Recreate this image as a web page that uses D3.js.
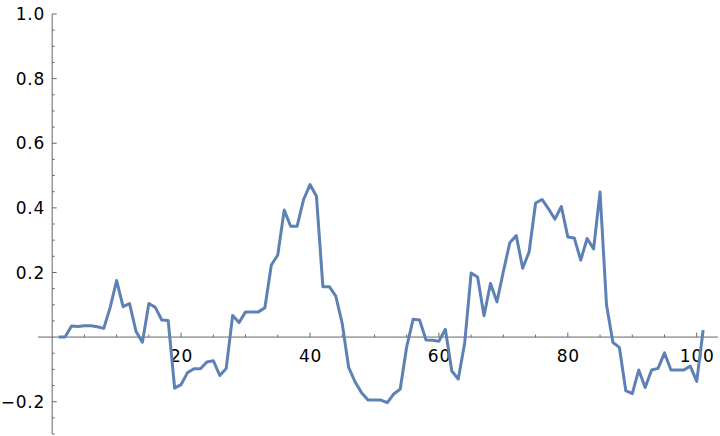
<!DOCTYPE html>
<html>
<head>
<meta charset="utf-8">
<script src="https://cdn.jsdelivr.net/npm/d3@7"></script>
<style>
  html, body { margin: 0; padding: 0; background: #fff; }
  svg text { font-family: "DejaVu Sans", sans-serif; font-size: 17px; letter-spacing: 0.8px; fill: #000; }
</style>
</head>
<body>
<svg id="chart" width="720" height="436"></svg>
<script>
const xValues = d3.range(1, 102);
const yValues = [
  0, 0, 0.034, 0.033, 0.035, 0.035, 0.032, 0.027, 0.092, 0.175,
  0.094, 0.104, 0.018, -0.016, 0.104, 0.092, 0.053, 0.051, -0.158, -0.147,
  -0.11, -0.098, -0.098, -0.077, -0.073, -0.119, -0.097, 0.067, 0.045, 0.078,
  0.078, 0.078, 0.091, 0.223, 0.254, 0.393, 0.343, 0.343, 0.425, 0.472,
  0.436, 0.156, 0.156, 0.127, 0.042, -0.094, -0.139, -0.172, -0.195, -0.195,
  -0.195, -0.203, -0.176, -0.161, -0.03, 0.055, 0.053, -0.009, -0.01, -0.013,
  0.024, -0.105, -0.13, -0.018, 0.198, 0.186, 0.066, 0.166, 0.109, 0.203,
  0.292, 0.314, 0.213, 0.264, 0.415, 0.426, 0.397, 0.365, 0.404, 0.31,
  0.307, 0.238, 0.305, 0.273, 0.449, 0.1, -0.017, -0.032, -0.166, -0.175,
  -0.102, -0.156, -0.102, -0.097, -0.049, -0.102, -0.102, -0.102, -0.09, -0.137,
  0.022
];
const xMajor = [20, 40, 60, 80, 100];
const xMinor = d3.range(5, 105, 5).filter(v => !xMajor.includes(v));
const yMajor = [-0.2, 0.2, 0.4, 0.6, 0.8, 1.0];
const yMinor = d3.range(-0.3, 1.0001, 0.05).map(v => +v.toFixed(2))
  .filter(v => !yMajor.some(m => Math.abs(m - v) < 1e-9) && Math.abs(v) > 1e-9);

const svg = d3.select('#chart');
const x = d3.scaleLinear().domain([-2.2, 103.3]).range([38, 718]);
const y = d3.scaleLinear().domain([-0.3, 1.0]).range([434, 14]);
const axisColor = '#666';
const fmt = v => (v < 0 ? '\u2212' : '') + Math.abs(v).toFixed(1);

// x axis
const gx = svg.append('g');
gx.append('line')
  .attr('x1', x.range()[0]).attr('x2', x.range()[1])
  .attr('y1', y(0)).attr('y2', y(0))
  .attr('stroke', axisColor).attr('stroke-width', 1);
gx.selectAll('.maj').data(xMajor).join('line')
  .attr('x1', d => x(d)).attr('x2', d => x(d))
  .attr('y1', y(0)).attr('y2', y(0) - 4.5)
  .attr('stroke', axisColor);
gx.selectAll('.min').data(xMinor).join('line')
  .attr('x1', d => x(d)).attr('x2', d => x(d))
  .attr('y1', y(0)).attr('y2', y(0) - 2.5)
  .attr('stroke', axisColor);
gx.selectAll('text').data(xMajor).join('text')
  .attr('x', d => x(d) + 0.5).attr('y', y(0) + 25)
  .attr('text-anchor', 'middle')
  .text(d => d);

// y axis
const gy = svg.append('g');
gy.append('line')
  .attr('x1', x(0)).attr('x2', x(0))
  .attr('y1', y.range()[0]).attr('y2', y.range()[1])
  .attr('stroke', axisColor).attr('stroke-width', 1);
gy.selectAll('.maj').data(yMajor).join('line')
  .attr('x1', x(0)).attr('x2', x(0) + 4.5)
  .attr('y1', d => y(d)).attr('y2', d => y(d))
  .attr('stroke', axisColor);
gy.selectAll('.min').data(yMinor).join('line')
  .attr('x1', x(0)).attr('x2', x(0) + 2.5)
  .attr('y1', d => y(d)).attr('y2', d => y(d))
  .attr('stroke', axisColor);
gy.selectAll('text').data(yMajor).join('text')
  .attr('x', x(0) - 7).attr('y', d => y(d))
  .attr('dy', '0.36em')
  .attr('text-anchor', 'end')
  .text(fmt);

// data line
const line = d3.line().x((d, i) => x(xValues[i])).y(d => y(d));
svg.append('path').datum(yValues)
  .attr('fill', 'none')
  .attr('stroke', '#5e81b5')
  .attr('stroke-width', 3)
  .attr('stroke-linejoin', 'round')
  .attr('d', line);
</script>
</body>
</html>
